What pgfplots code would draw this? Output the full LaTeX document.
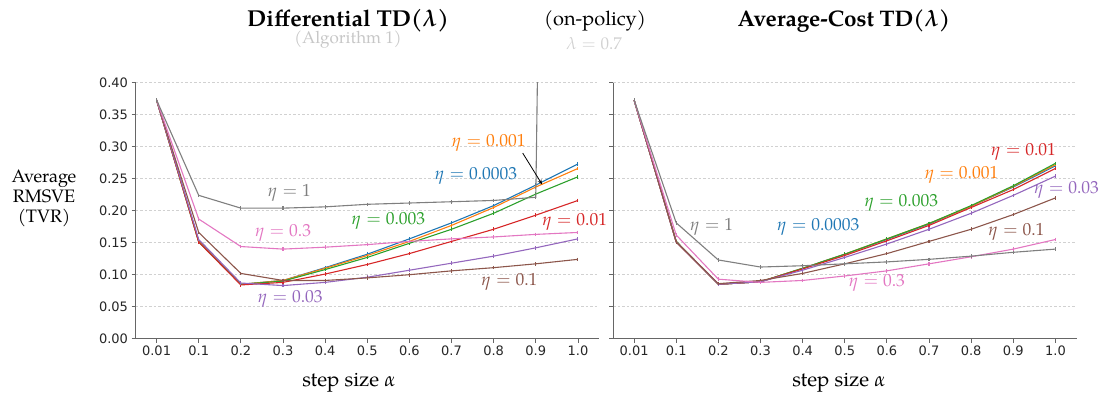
\documentclass[border=0pt]{standalone}
\usepackage{pgfplots}
\pgfplotsset{compat=1.18}
\usepackage{pgfplotstable}
\usetikzlibrary{arrows.meta}
\usepackage{mathpazo}
\usepackage[no-math]{fontspec}
\setmainfont{TeX Gyre Pagella}
\newfontfamily\tickfont{DejaVu Sans}

\definecolor{cblue}{HTML}{1F77B4}
\definecolor{corange}{HTML}{FF7F0E}
\definecolor{cgreen}{HTML}{2CA02C}
\definecolor{cred}{HTML}{D62728}
\definecolor{cpurple}{HTML}{9467BD}
\definecolor{cbrown}{HTML}{8C564B}
\definecolor{cpink}{HTML}{E377C2}
\definecolor{cgray}{HTML}{7F7F7F}

% RMSVE against step size (index 0..10 = 0.01, 0.1, ..., 1.0), one column per eta
\pgfplotstableread{
i  a      b      c      d      e      f      g      h
0  0.373  0.373  0.373  0.373  0.373  0.373  0.373  0.373
1  0.153  0.152  0.151  0.151  0.155  0.166  0.187  0.224
2  0.085  0.085  0.085  0.084  0.087  0.102  0.144  0.204
3  0.091  0.091  0.090  0.088  0.083  0.091  0.140  0.204
4  0.111  0.110  0.108  0.101  0.088  0.091  0.143  0.206
5  0.132  0.130  0.127  0.116  0.096  0.095  0.147  0.210
6  0.156  0.152  0.149  0.133  0.107  0.100  0.152  0.212
7  0.181  0.177  0.171  0.152  0.118  0.106  0.156  0.214
8  0.208  0.205  0.196  0.171  0.129  0.111  0.159  0.216
9  0.240  0.237  0.226  0.193  0.142  0.117  0.163  0.221
10 0.273  0.266  0.253  0.216  0.156  0.124  0.166  5.000
}\difftd

\pgfplotstableread{
i  a      b      c      d      e      f      g      h
0  0.373  0.373  0.373  0.373  0.373  0.373  0.373  0.373
1  0.152  0.152  0.152  0.151  0.151  0.151  0.162  0.181
2  0.085  0.085  0.085  0.085  0.085  0.086  0.093  0.123
3  0.089  0.089  0.089  0.089  0.089  0.091  0.088  0.112
4  0.110  0.110  0.110  0.109  0.107  0.102  0.091  0.114
5  0.132  0.132  0.132  0.130  0.127  0.117  0.098  0.117
6  0.155  0.156  0.156  0.153  0.148  0.133  0.106  0.120
7  0.179  0.180  0.180  0.177  0.171  0.152  0.117  0.124
8  0.207  0.207  0.208  0.205  0.196  0.171  0.128  0.129
9  0.237  0.238  0.239  0.233  0.224  0.194  0.140  0.135
10 0.270  0.272  0.274  0.266  0.254  0.220  0.155  0.140
}\avgcost

\pgfplotsset{
  rmsve/.style={
    scale only axis, width=463.5pt, height=256pt,
    anchor=south west,
    xmin=-0.5, xmax=10.5, ymin=0, ymax=0.4,
    axis x line*=bottom, axis y line*=left,
    axis line style={draw=black!60, line width=0.9pt},
    xtick={0,1,2,3,4,5,6,7,8,9,10},
    xticklabels={0.01,0.1,0.2,0.3,0.4,0.5,0.6,0.7,0.8,0.9,1.0},
    ytick={0,0.05,0.1,0.15,0.2,0.25,0.3,0.35,0.4},
    ymajorgrids,
    major grid style={draw=black!18, line width=0.6pt, dash pattern=on 2.5pt off 2pt},
    tick align=outside, major tick length=4pt,
    tick style={draw=black!60, line width=0.8pt},
    ticklabel style={font=\tickfont\fontsize{13}{13}\selectfont, text=black!85},
    yticklabel style={/pgf/number format/fixed, /pgf/number format/fixed zerofill,
      /pgf/number format/precision=2, /pgf/number format/assume math mode=true},
    clip mode=individual,
    every axis plot/.append style={line width=1.1pt, mark=|, mark size=1.8pt, mark options={solid}},
  },
}
\tikzset{etalab/.style={font=\fontsize{17.5}{17.5}\selectfont, inner sep=0pt}}

\begin{document}
\begin{tikzpicture}
\useasboundingbox (0pt,0pt) rectangle (1101pt,-393pt);

% ---- left panel: Differential TD(lambda)
\begin{axis}[rmsve, at={(135.5pt,-338.7pt)}]
  \addplot[cblue]   table[x=i, y=a] {\difftd};
  \addplot[corange] table[x=i, y=b] {\difftd};
  \addplot[cgreen]  table[x=i, y=c] {\difftd};
  \addplot[cred]    table[x=i, y=d] {\difftd};
  \addplot[cpurple] table[x=i, y=e] {\difftd};
  \addplot[cbrown]  table[x=i, y=f] {\difftd};
  \addplot[cpink]   table[x=i, y=g] {\difftd};
  \addplot[cgray]   table[x=i, y=h] {\difftd};
  \node[etalab, text=cgray]   at (axis cs:3.15,0.228) {$\eta = 1$};
  \node[etalab, text=cpink]   at (axis cs:3.00,0.165) {$\eta = 0.3$};
  \node[etalab, text=cgreen]  at (axis cs:5.50,0.184) {$\eta = 0.003$};
  \node[etalab, text=cblue]   at (axis cs:7.58,0.254) {$\eta = 0.0003$};
  \node[etalab, text=corange] at (axis cs:7.88,0.306) {$\eta = 0.001$};
  \node[etalab, text=cred]    at (axis cs:9.92,0.182) {$\eta = 0.01$};
  \node[etalab, text=cpurple] at (axis cs:3.17,0.062) {$\eta = 0.03$};
  \node[etalab, text=cbrown]  at (axis cs:8.37,0.089) {$\eta = 0.1$};
  \draw[-{Stealth[length=5pt,width=4pt]}, black, line width=0.8pt]
    (axis cs:8.69,0.290) -- (axis cs:9.15,0.241);
\end{axis}

% ---- right panel: Average-Cost TD(lambda)
\begin{axis}[rmsve, at={(613pt,-338.7pt)}, yticklabels={}]
  \addplot[cblue]   table[x=i, y=a] {\avgcost};
  \addplot[corange] table[x=i, y=b] {\avgcost};
  \addplot[cgreen]  table[x=i, y=c] {\avgcost};
  \addplot[cred]    table[x=i, y=d] {\avgcost};
  \addplot[cpurple] table[x=i, y=e] {\avgcost};
  \addplot[cbrown]  table[x=i, y=f] {\avgcost};
  \addplot[cpink]   table[x=i, y=g] {\avgcost};
  \addplot[cgray]   table[x=i, y=h] {\avgcost};
  \node[etalab, text=cgray]   at (axis cs:1.84,0.1745) {$\eta = 1$};
  \node[etalab, text=cblue]   at (axis cs:4.37,0.1745) {$\eta = 0.0003$};
  \node[etalab, text=cgreen]  at (axis cs:6.34,0.212) {$\eta = 0.003$};
  \node[etalab, text=corange] at (axis cs:7.77,0.256) {$\eta = 0.001$};
  \node[etalab, text=cred]    at (axis cs:9.24,0.2925) {$\eta = 0.01$};
  \node[etalab, text=cpurple] at (axis cs:10.26,0.2325) {$\eta = 0.03$};
  \node[etalab, text=cbrown]  at (axis cs:9.07,0.1675) {$\eta = 0.1$};
  \node[etalab, text=cpink]   at (axis cs:5.76,0.087) {$\eta = 0.3$};
\end{axis}

% ---- titles and axis labels
\node[anchor=base, font=\bfseries\fontsize{23}{23}\selectfont] at (348pt,-27pt)
  {Differential TD({\boldmath$\lambda$})};
\node[anchor=base, font=\fontsize{17}{17}\selectfont, text=black!22] at (348pt,-44pt)
  {(Algorithm 1)};
\node[anchor=base, font=\fontsize{20}{20}\selectfont] at (595pt,-26pt) {(on-policy)};
\node[anchor=base, font=\fontsize{17}{17}\selectfont, text=black!18] at (594pt,-50pt)
  {$\lambda = 0.7$};
\node[anchor=base, font=\bfseries\fontsize{22.5}{22.5}\selectfont] at (844pt,-27pt)
  {Average-Cost TD({\boldmath$\lambda$})};
\node[align=center, font=\fontsize{18}{20}\selectfont, inner sep=0pt] at (44pt,-198pt)
  {Average\\RMSVE\\(TVR)};
\node[anchor=base, font=\fontsize{20.5}{20.5}\selectfont] at (349pt,-386.5pt) {step size $\alpha$};
\node[anchor=base, font=\fontsize{20.5}{20.5}\selectfont] at (839pt,-386.5pt) {step size $\alpha$};
\end{tikzpicture}
\end{document}
